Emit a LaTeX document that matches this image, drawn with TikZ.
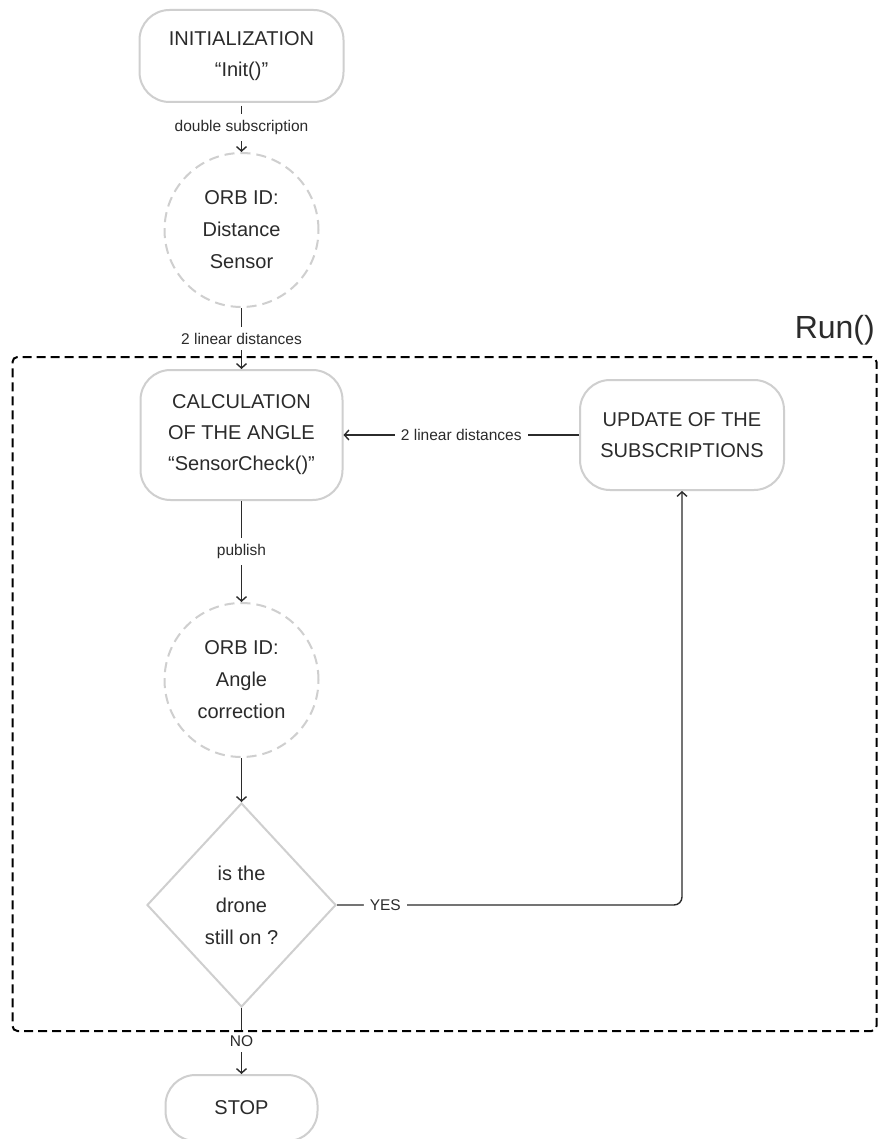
\documentclass[tikz,border=0pt]{standalone}
\usepackage{fontspec}
\setmainfont{Liberation Sans}
\usetikzlibrary{shapes.geometric,arrows.meta}
\definecolor{boxgray}{HTML}{CFCFCF}
\definecolor{ink}{HTML}{2B2B2B}
\begin{document}
\begin{tikzpicture}[x=1pt,y=-1pt,
  stage/.style={draw=boxgray, line width=2pt, rounded corners=30pt, align=center,
    text=ink, font=\fontsize{20}{31}\selectfont, inner sep=0pt},
  orb/.style={circle, draw=boxgray, line width=2pt, dash pattern=on 10pt off 6pt,
    align=center, text=ink, font=\fontsize{20}{32}\selectfont, minimum size=154pt, inner sep=0pt},
  decision/.style={diamond, draw=boxgray, line width=2pt, align=center, text=ink,
    font=\fontsize{20}{32}\selectfont, minimum width=189pt, minimum height=204pt, inner sep=0pt},
  flow/.style={draw=ink, line width=1.4pt, -{Straight Barb[length=4.5pt,width=10pt]}},
  lbl/.style={fill=white, text=ink, font=\fontsize{15.5}{17}\selectfont, inner sep=6pt},
  runframe/.style={draw=black, line width=2pt, dash pattern=on 9pt off 5pt, rounded corners=5pt}
]
\useasboundingbox (0,0) rectangle (879,1139);
\fill[white] (0,0) rectangle (879,1139);

% main column of processing stages
\node[stage, minimum width=204pt, minimum height=92pt] (init) at (241.5,56)
  {INITIALIZATION\\“Init()”};
\node[orb] (orb1) at (241.5,230) {ORB ID:\\Distance\\Sensor};
\node[stage, minimum width=202pt, minimum height=130pt] (calc) at (241.5,435)
  {CALCULATION\\OF THE ANGLE\\“SensorCheck()”};
\node[orb] (orb2) at (241.5,680) {ORB ID:\\Angle\\correction};
\node[decision] (dec) at (241.5,905) {is the\\drone\\still on ?};
\node[stage, minimum width=152pt, minimum height=66pt] (stop) at (241.5,1108) {STOP};

% feedback stage
\node[stage, minimum width=204pt, minimum height=110pt] (upd) at (682,435)
  {UPDATE OF THE\\SUBSCRIPTIONS};

% connectors
\draw[flow, shorten <=3pt] (init) -- node[lbl] {double subscription} (orb1);
\draw[flow] (orb1) -- node[lbl] {2 linear distances} (calc);
\draw[flow] (upd) -- node[lbl] {2 linear distances} (calc);
\draw[flow] (calc) -- node[lbl] {publish} (orb2);
\draw[flow] (orb2) -- (dec);
\draw[flow, rounded corners=8pt] (dec.east) -| node[lbl, pos=0.07] {YES} (upd.south);
\draw[flow] (dec) -- node[lbl] {NO} (stop);

% loop frame
\node[runframe, minimum width=864pt, minimum height=674pt, inner sep=0pt] (run) at (444.5,694) {};
\node[text=ink, font=\fontsize{32}{38}\selectfont, anchor=base east, inner sep=0pt] (runlbl)
  at (875,338) {Run()};
\end{tikzpicture}
\end{document}
